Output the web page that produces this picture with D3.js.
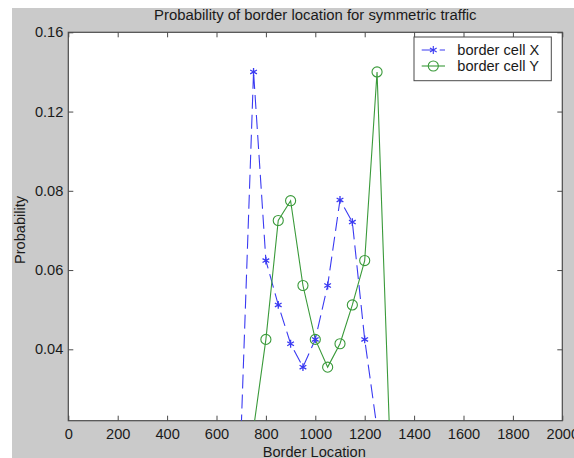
<!DOCTYPE html>
<html>
<head>
<meta charset="utf-8">
<script src="https://cdn.jsdelivr.net/npm/d3@7"></script>
<style>
  body { margin: 0; background: #fff; }
  svg { display: block; }
  text { font-family: "Liberation Sans", Arial, Helvetica, sans-serif; fill: #1a1a1a; }
</style>
</head>
<body>
<svg id="chart" width="574" height="458"></svg>
<script>
// Border locations (x) and probabilities for each border cell
const locationsX = [700, 750, 800, 850, 900, 950, 1000, 1050, 1100, 1150, 1200, 1250];
const cellX      = [0.020, 0.140, 0.0624, 0.0512, 0.0414, 0.0355, 0.0425, 0.0561, 0.0777, 0.0721, 0.0425, 0.020];

const locationsY = [750, 800, 850, 900, 950, 1000, 1050, 1100, 1150, 1200, 1250, 1300];
const cellY      = [0.020, 0.0425, 0.0725, 0.0775, 0.0561, 0.0425, 0.0355, 0.0414, 0.0512, 0.0624, 0.140, 0.020];

const xTicks = [0, 200, 400, 600, 800, 1000, 1200, 1400, 1600, 1800, 2000];
const yTicks = [0.04, 0.06, 0.08, 0.12, 0.16];

const seriesNames = ["border cell X", "border cell Y"];
const titleText = "Probability of border location for symmetric traffic";

const svg = d3.select("#chart");
const W = 574, H = 458;
const plot = { left: 68.3, right: 562.3, top: 32.3, bottom: 420.7 };
const tickStep = 79.25;

// figure background
svg.append("rect").attr("x", 12).attr("y", 8).attr("width", W - 12).attr("height", H - 8).attr("fill", "#cacaca");

const x = d3.scaleLinear().domain([0, 2000]).range([plot.left, plot.right]);
// y tick labels are evenly spaced, so the y scale is piecewise linear between them
const y = d3.scaleLinear()
  .domain(yTicks)
  .range(yTicks.map((d, i) => plot.top + (yTicks.length - 1 - i) * tickStep));

// plot area
svg.append("rect")
  .attr("x", plot.left).attr("y", plot.top)
  .attr("width", plot.right - plot.left).attr("height", plot.bottom - plot.top)
  .attr("fill", "#fff");

svg.append("clipPath").attr("id", "clip")
  .append("rect")
  .attr("x", plot.left).attr("y", plot.top)
  .attr("width", plot.right - plot.left).attr("height", plot.bottom - plot.top);

// axes with inward ticks on all four sides
const axisColor = "#4a4a4a";
const fontSize = "14.6px";

const xAxis = d3.axisBottom(x).tickValues(xTicks).tickSizeInner(-5).tickSizeOuter(0).tickPadding(8).tickFormat(d3.format("d"));
const gx = svg.append("g").attr("transform", `translate(0,${plot.bottom})`).call(xAxis);
const xTop = d3.axisTop(x).tickValues(xTicks).tickSizeInner(-5).tickSizeOuter(0).tickFormat("");
const gxt = svg.append("g").attr("transform", `translate(0,${plot.top})`).call(xTop);

const yAxis = d3.axisLeft(y).tickValues(yTicks).tickSizeInner(-5).tickSizeOuter(0).tickPadding(5).tickFormat(d3.format(".2f"));
const gy = svg.append("g").attr("transform", `translate(${plot.left},0)`).call(yAxis);
const yRight = d3.axisRight(y).tickValues(yTicks).tickSizeInner(-5).tickSizeOuter(0).tickFormat("");
const gyr = svg.append("g").attr("transform", `translate(${plot.right},0)`).call(yRight);

[gx, gxt, gy, gyr].forEach(g => {
  g.select(".domain").remove();
  g.selectAll(".tick line").attr("stroke", axisColor);
  g.selectAll(".tick text").attr("font-size", fontSize).attr("fill", "#1a1a1a")
    .attr("font-family", '"Liberation Sans", Arial, sans-serif');
});

// frame
svg.append("rect")
  .attr("x", plot.left).attr("y", plot.top)
  .attr("width", plot.right - plot.left).attr("height", plot.bottom - plot.top)
  .attr("fill", "none").attr("stroke", axisColor).attr("stroke-width", 1.2);

// series
const blue = "#3a3af2";
const green = "#3a9a3a";

const lineGen = d3.line().x(d => x(d[0])).y(d => y(d[1]));
const dataX = locationsX.map((v, i) => [v, cellX[i]]);
const dataY = locationsY.map((v, i) => [v, cellY[i]]);

const plotG = svg.append("g").attr("clip-path", "url(#clip)");

plotG.append("path").datum(dataX).attr("d", lineGen)
  .attr("fill", "none").attr("stroke", blue).attr("stroke-width", 1.1)
  .attr("stroke-dasharray", "14,6");

plotG.append("path").datum(dataY).attr("d", lineGen)
  .attr("fill", "none").attr("stroke", green).attr("stroke-width", 1.1);

const star = d3.symbol(d3.symbolAsterisk, 42);
const circle = d3.symbol(d3.symbolCircle, 80);

plotG.selectAll(".mx").data(dataX).join("path").attr("class", "mx")
  .attr("transform", d => `translate(${x(d[0])},${y(d[1])})`)
  .attr("d", star).attr("fill", "none").attr("stroke", blue).attr("stroke-width", 1.3);

plotG.selectAll(".my").data(dataY).join("path").attr("class", "my")
  .attr("transform", d => `translate(${x(d[0])},${y(d[1])})`)
  .attr("d", circle).attr("fill", "none").attr("stroke", green).attr("stroke-width", 1.1);

// legend
const lg = svg.append("g");
lg.append("rect").attr("x", 414).attr("y", 37).attr("width", 137.3).attr("height", 43.7)
  .attr("fill", "#fff").attr("stroke", axisColor).attr("stroke-width", 1);
const rows = [
  { name: seriesNames[0], color: blue, dash: "12,6", sym: star, cy: 50 },
  { name: seriesNames[1], color: green, dash: null, sym: circle, cy: 66 }
];
rows.forEach(r => {
  lg.append("line").attr("x1", 421.7).attr("x2", 445).attr("y1", r.cy).attr("y2", r.cy)
    .attr("stroke", r.color).attr("stroke-width", 1.1).attr("stroke-dasharray", r.dash);
  lg.append("path").attr("transform", `translate(433.3,${r.cy})`).attr("d", r.sym)
    .attr("fill", "none").attr("stroke", r.color).attr("stroke-width", 1.1);
  lg.append("text").attr("x", 457.3).attr("y", r.cy).attr("dy", "0.35em")
    .attr("font-size", fontSize).text(r.name);
});

// title and axis labels
svg.append("text").attr("x", (plot.left + plot.right) / 2).attr("y", 19.5)
  .attr("text-anchor", "middle").attr("font-size", "14.9px").text(titleText);

svg.append("text").attr("x", (plot.left + plot.right) / 2 - 1).attr("y", 456.5)
  .attr("text-anchor", "middle").attr("font-size", fontSize).text("Border Location");

svg.append("text").attr("transform", "translate(25,230) rotate(-90)")
  .attr("text-anchor", "middle").attr("font-size", fontSize).text("Probability");
</script>
</body>
</html>
